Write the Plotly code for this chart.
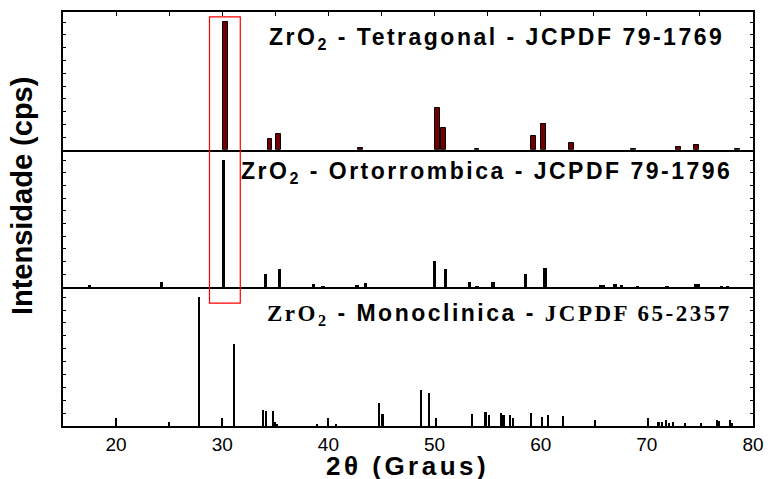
import plotly.graph_objects as go
from plotly.subplots import make_subplots

# ZrO2 reference patterns: 2-theta positions (degrees) and relative intensities (%)
tet_2theta = [30.28, 34.5, 35.3, 43.0, 50.3, 50.8, 54.0, 59.3, 60.3, 62.9, 68.7, 73.0, 74.7, 78.5]
tet_int = [100, 8.3, 12.8, 1.8, 32.6, 17.4, 0.5, 10.9, 20.3, 5.2, 0.4, 2.3, 3.9, 0.5]

ort_2theta = [17.5, 24.3, 30.1, 34.1, 35.4, 38.6, 39.5, 42.7, 43.5, 50.0, 51.0, 53.3, 54.0,
              55.5, 58.6, 60.4, 65.6, 65.9, 67.0, 67.6, 69.1, 71.9, 74.6, 74.9, 77.0, 77.6]
ort_int = [1.8, 4.2, 100, 10.2, 14.3, 2.1, 1.0, 1.6, 3.4, 20.6, 14.3, 3.9, 1.0,
           3.6, 10.2, 14.8, 1.3, 1.3, 2.1, 1.3, 0.5, 1.0, 2.1, 2.1, 0.5, 0.5]

mon_2theta = [20.0, 25.0, 27.8, 30.0, 31.1, 33.8, 34.1, 34.8, 35.0, 35.2, 38.9, 40.0, 40.7,
              44.8, 45.1, 48.7, 49.5, 50.1, 53.5, 54.8, 55.1, 56.3, 56.5, 57.1, 57.4, 59.1,
              60.1, 60.7, 62.1, 65.1, 70.1, 71.1, 71.4, 71.8, 72.1, 72.5, 73.6, 75.1, 76.6,
              76.8, 77.8, 78.0]
mon_int = [6.3, 3.1, 100, 6.3, 63.8, 12.2, 11.5, 12.0, 2.9, 1.3, 1.8, 6.0, 1.3,
           17.7, 9.1, 27.9, 25.8, 6.0, 9.6, 11.2, 8.3, 10.2, 8.3, 8.6, 6.5, 9.9,
           7.0, 8.3, 7.8, 4.4, 6.0, 3.4, 3.4, 4.4, 2.3, 3.1, 2.3, 2.3, 4.4,
           3.9, 4.4, 2.3]

x_ticks = [20, 30, 40, 50, 60, 70, 80]
phase_labels = [
    "ZrO<sub>2</sub> - Tetragonal - JCPDF 79-1769",
    "ZrO<sub>2</sub> - Ortorrombica - JCPDF 79-1796",
    '<span style="font-family:Liberation Serif">ZrO<sub>2</sub></span> - Monoclinica - '
    '<span style="font-family:Liberation Serif">JCPDF 65-2357</span>',
]

SANS = "Liberation Sans, Arial, sans-serif"

fig = make_subplots(rows=3, cols=1, shared_xaxes=True, vertical_spacing=0)

fig.add_trace(go.Bar(x=tet_2theta, y=tet_int, width=0.47,
                     marker=dict(color="#720000", line=dict(color="black", width=1))),
              row=1, col=1)
fig.add_trace(go.Bar(x=ort_2theta, y=ort_int, width=0.3,
                     marker=dict(color="black", line=dict(width=0))),
              row=2, col=1)
fig.add_trace(go.Bar(x=mon_2theta, y=mon_int, width=0.2,
                     marker=dict(color="black", line=dict(width=0))),
              row=3, col=1)

# equal-height stacked panels
domains = [[0.667, 1.0], [0.336, 0.667], [0.0, 0.336]]
for i, dom in enumerate(domains, start=1):
    fig.update_yaxes(domain=dom, range=[0, 108], showticklabels=False,
                     ticks="inside", dtick=10, ticklen=3, tickwidth=1, tickcolor="black",
                     showline=True, linewidth=2, linecolor="black", mirror="ticks",
                     showgrid=False, zeroline=False, row=i, col=1)

common_x = dict(range=[15, 80], showline=True, linewidth=2, linecolor="black",
                showgrid=False, zeroline=False)
fig.update_xaxes(**common_x)
# top panel draws the outer top edge and the first divider; the others draw only their bottom edge
fig.update_xaxes(side="top", mirror=True, ticks="inside", tickvals=list(range(15, 81, 5)),
                 ticklen=4, tickwidth=1, tickcolor="black", showticklabels=False,
                 row=1, col=1)
fig.update_xaxes(mirror=False, ticks="", showticklabels=False, row=2, col=1)
fig.update_xaxes(mirror=False, ticks="", tickvals=x_ticks, showticklabels=True,
                 tickfont=dict(family=SANS, size=19, color="black"), row=3, col=1)

# highlighted region around the 30 degree reflection
fig.add_shape(type="rect", xref="x3", yref="paper", x0=28.8, x1=31.7, y0=0.297, y1=0.988,
              line=dict(color="#ff0000", width=1.2), fillcolor="rgba(0,0,0,0)", layer="above")

label_pos = [(34.2, 0.937), (31.6, 0.612), (34.0, 0.27)]
for text, (xp, yp) in zip(phase_labels, label_pos):
    fig.add_annotation(text='<span style="letter-spacing:2.5px">' + text + '</span>',
                       xref="x3", yref="paper", x=xp, y=yp,
                       xanchor="left", yanchor="middle", showarrow=False,
                       font=dict(family=SANS, size=23, color="black", weight="bold"))

fig.add_annotation(text='<span style="letter-spacing:3.5px">2θ (Graus)</span>',
                   xref="paper", yref="paper", x=0.499, y=-0.096,
                   xanchor="center", yanchor="middle", showarrow=False, borderpad=0,
                   font=dict(family=SANS, size=26, color="black", weight="bold"))
fig.add_annotation(text="Intensidade (cps)", xref="paper", yref="paper", x=-0.059, y=0.556,
                   xanchor="center", yanchor="middle", textangle=-90, showarrow=False,
                   font=dict(family=SANS, size=29, color="black", weight="bold"))

fig.update_layout(width=776, height=479, margin=dict(l=63, r=16, t=12, b=53),
                  plot_bgcolor="white", paper_bgcolor="white", showlegend=False,
                  bargap=0)

fig.write_html("out.html")
